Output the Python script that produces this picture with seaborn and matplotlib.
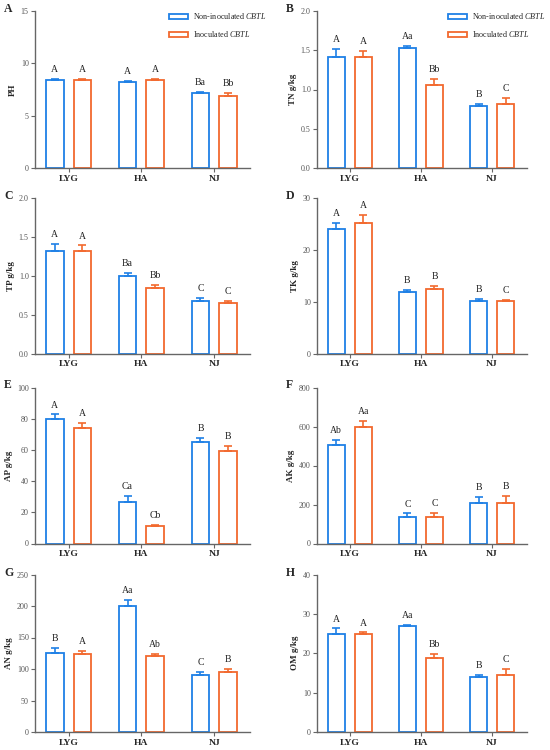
import numpy as np
import pandas as pd
import matplotlib
matplotlib.use("Agg")
import matplotlib.pyplot as plt
from matplotlib.patches import Patch
from matplotlib.ticker import FormatStrFormatter, MultipleLocator
import seaborn as sns

sns.set_style("ticks")
plt.rcParams['font.family'] = ['Liberation Serif', 'DejaVu Serif']
plt.rcParams['mathtext.fontset'] = 'custom'
plt.rcParams['mathtext.rm'] = 'Liberation Serif'
plt.rcParams['mathtext.it'] = 'Liberation Serif:italic'

sites = ["LYG", "HA", "NJ"]
groups = ["Non-inoculated", "Inoculated"]
legend_labels = [r"Non-inoculated $\it{CBTL}$", r"Inoculated $\it{CBTL}$"]

# values per panel: [non-inoculated per site], [inoculated per site]
ph_non = [8.45, 8.2, 7.2]
ph_ino = [8.38, 8.42, 6.9]
ph_non_err = [0.05, 0.08, 0.05]
ph_ino_err = [0.1, 0.08, 0.28]
ph_sig = [["A", "A", "Ba"], ["A", "A", "Bb"]]

tn_non = [1.42, 1.53, 0.79]
tn_ino = [1.42, 1.06, 0.81]
tn_non_err = [0.1, 0.03, 0.03]
tn_ino_err = [0.07, 0.08, 0.08]
tn_sig = [["A", "Aa", "B"], ["A", "Bb", "C"]]

tp_non = [1.32, 1.00, 0.67]
tp_ino = [1.32, 0.84, 0.65]
tp_non_err = [0.09, 0.04, 0.05]
tp_ino_err = [0.07, 0.04, 0.03]
tp_sig = [["A", "Ba", "C"], ["A", "Bb", "C"]]

tk_non = [24.1, 11.9, 10.1]
tk_ino = [25.2, 12.5, 10.1]
tk_non_err = [1.1, 0.4, 0.4]
tk_ino_err = [1.5, 0.6, 0.3]
tk_sig = [["A", "B", "B"], ["A", "B", "C"]]

ap_non = [79.5, 26.9, 65.2]
ap_ino = [73.9, 10.9, 59.2]
ap_non_err = [3.2, 3.7, 2.5]
ap_ino_err = [3.5, 1.1, 3.2]
ap_sig = [["A", "Ca", "B"], ["A", "Cb", "B"]]

ak_non = [506, 138, 210]
ak_ino = [595, 138, 210]
ak_non_err = [26, 16, 28]
ak_ino_err = [32, 19, 33]
ak_sig = [["Ab", "C", "B"], ["Aa", "C", "B"]]

an_non = [126, 200, 90]
an_ino = [124, 120, 96]
an_non_err = [7, 10, 5]
an_ino_err = [4, 4, 4]
an_sig = [["B", "Aa", "C"], ["A", "Ab", "B"]]

om_non = [25.0, 26.8, 14.0]
om_ino = [24.8, 18.7, 14.5]
om_non_err = [1.3, 0.5, 0.5]
om_ino_err = [0.5, 1.1, 1.5]
om_sig = [["A", "Aa", "B"], ["A", "Bb", "C"]]

panel_letters = ["A", "B", "C", "D", "E", "F", "G", "H"]
ylabels = ["PH", "TN g/kg", "TP g/kg", "TK g/kg", "AP g/kg", "AK g/kg", "AN g/kg", "OM g/kg"]
ymax = [15, 2.0, 2.0, 30, 100, 800, 250, 40]
ystep = [5, 0.5, 0.5, 10, 20, 200, 50, 10]

panels = [
    (ph_non, ph_ino, ph_non_err, ph_ino_err, ph_sig),
    (tn_non, tn_ino, tn_non_err, tn_ino_err, tn_sig),
    (tp_non, tp_ino, tp_non_err, tp_ino_err, tp_sig),
    (tk_non, tk_ino, tk_non_err, tk_ino_err, tk_sig),
    (ap_non, ap_ino, ap_non_err, ap_ino_err, ap_sig),
    (ak_non, ak_ino, ak_non_err, ak_ino_err, ak_sig),
    (an_non, an_ino, an_non_err, an_ino_err, an_sig),
    (om_non, om_ino, om_non_err, om_ino_err, om_sig),
]

blue = "#1F80E6"
orange = "#F2692E"
colors = [blue, orange]
spine_col = "#666666"

W, H = 550, 750
fig = plt.figure(figsize=(5.5, 7.5), dpi=100)

col_x = [(35, 250), (317, 527)]
row_y = [(11, 168), (198, 353.5), (387.5, 543.5), (574.5, 732)]

for i, (non, ino, nerr, ierr, sig) in enumerate(panels):
    r, c = divmod(i, 2)
    x0, x1 = col_x[c]
    yt, yb = row_y[r]
    ax = fig.add_axes([x0 / W, 1 - yb / H, (x1 - x0) / W, (yb - yt) / H])

    df = pd.DataFrame({
        "site": sites * 2,
        "group": [groups[0]] * 3 + [groups[1]] * 3,
        "value": list(non) + list(ino),
    })
    sns.barplot(data=df, x="site", y="value", hue="group", order=sites,
                hue_order=groups, palette=colors, fill=False, linewidth=1.3,
                width=0.76, gap=0.36, errorbar=None, legend=False, ax=ax)

    errs = [nerr, ierr]
    bar_conts = list(ax.containers)[:2]
    for g, cont in enumerate(bar_conts):
        xs = [b.get_x() + b.get_width() / 2 for b in cont]
        tops = [b.get_height() for b in cont]
        ax.errorbar(xs, tops, yerr=[np.zeros(3), errs[g]], fmt="none",
                    ecolor=colors[g], elinewidth=1.2, capsize=3.2,
                    capthick=1.2, zorder=1)
        for k in range(3):
            ax.annotate(sig[g][k], (xs[k], tops[k] + errs[g][k]),
                        xytext=(0, 3.5), textcoords="offset points",
                        ha="center", va="bottom", fontsize=7, color="#222222")

    ax.set_xlim(-0.46, 2.49)
    ax.set_ylim(0, ymax[i])
    ax.yaxis.set_major_locator(MultipleLocator(ystep[i]))
    if ystep[i] < 1:
        ax.yaxis.set_major_formatter(FormatStrFormatter("%.1f"))
    else:
        ax.yaxis.set_major_formatter(FormatStrFormatter("%d"))
    sns.despine(ax=ax)
    for s in ["left", "bottom"]:
        ax.spines[s].set_color(spine_col)
        ax.spines[s].set_linewidth(1.0)
    ax.tick_params(axis="y", direction="out", length=3, width=0.8,
                   color=spine_col, labelsize=5.8, labelcolor="#555555", pad=1.5)
    ax.tick_params(axis="x", direction="out", length=3, width=0.8,
                   color=spine_col, labelsize=6.8, pad=2)
    for lab in ax.get_xticklabels():
        lab.set_fontweight("bold")
    ax.set_xlabel("")
    ax.set_ylabel(ylabels[i], fontsize=6.5, fontweight="bold", labelpad=3)

    fig.text((x0 - 31) / W, 1 - 9 / H - (yt - 11) / H, panel_letters[i],
             fontweight="bold", fontsize=8.5, ha="left", va="center")

    if i < 2:
        handles = [Patch(facecolor="white", edgecolor=colors[g], linewidth=1.3)
                   for g in range(2)]
        ax.legend(handles, legend_labels, loc="upper left",
                  bbox_to_anchor=(0.6, 1.03), frameon=False, fontsize=5.9,
                  handlelength=2.3, handleheight=0.55, labelspacing=1.0,
                  handletextpad=0.6, borderaxespad=0.2)

fig.savefig("out.png", dpi=100)
